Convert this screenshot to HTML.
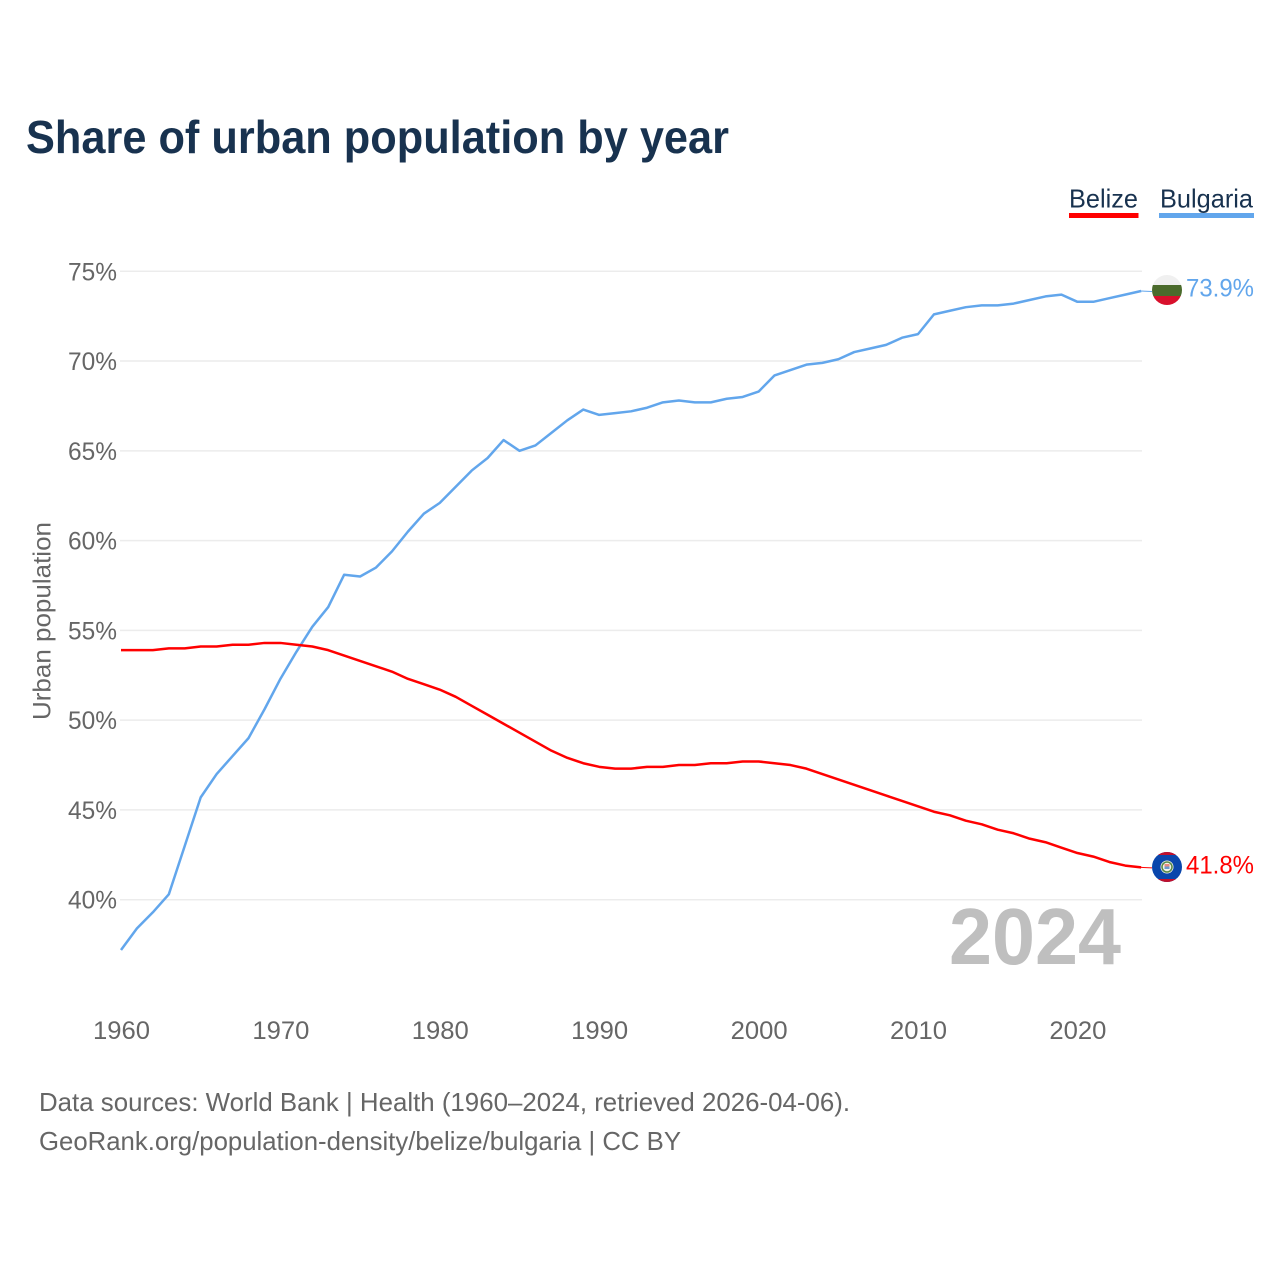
<!DOCTYPE html>
<html lang="en">
<head>
<meta charset="utf-8">
<title>Share of urban population by year</title>
<style>
html,body{margin:0;padding:0;background:#fff;width:1280px;height:1280px;overflow:hidden}
svg{display:block}
text{font-family:"Liberation Sans",sans-serif}
</style>
</head>
<body>
<svg id="chart" xmlns="http://www.w3.org/2000/svg" width="1280" height="1280" viewBox="0 0 1280 1280">
  <rect x="0" y="0" width="1280" height="1280" fill="#fff"/>
  <text x="26" y="153" font-size="46" font-weight="700" fill="#18324f" textLength="703" lengthAdjust="spacingAndGlyphs">Share of urban population by year</text>

  <g>
    <g>
      <text x="1069" y="207.5" font-size="26" fill="#18324f" textLength="69" lengthAdjust="spacingAndGlyphs">Belize</text>
      <rect x="1069" y="213" width="69.5" height="5" fill="#ff0000"/>
    </g>
    <g>
      <text x="1160" y="207.5" font-size="26" fill="#18324f" textLength="93" lengthAdjust="spacingAndGlyphs">Bulgaria</text>
      <rect x="1159" y="213" width="95" height="5" fill="#62a6ec"/>
    </g>
  </g>

  <g id="grid"></g>
  <g id="yticks"></g>
  <g id="xticks"></g>
  <text transform="translate(50.5,621) rotate(-90)" text-anchor="middle" font-size="25" fill="#666" textLength="198" lengthAdjust="spacingAndGlyphs">Urban population</text>

  <text x="949" y="964" font-size="80" font-weight="700" fill="#bfbfbf" textLength="172" lengthAdjust="spacingAndGlyphs">2024</text>

  <g id="series"></g>

  <defs>
    <clipPath id="flag-clip-bg"><circle cx="1167" cy="290" r="15"/></clipPath>
    <clipPath id="flag-clip-bz"><circle cx="1167" cy="867" r="15"/></clipPath>
  </defs>
  <g id="flag-bulgaria" clip-path="url(#flag-clip-bg)">
    <rect x="1152" y="275" width="30" height="10" fill="#f0f0f0"/>
    <rect x="1152" y="285" width="30" height="11" fill="#4b6b2c"/>
    <rect x="1152" y="296" width="30" height="10" fill="#d8102c"/>
  </g>
  <g id="flag-belize" clip-path="url(#flag-clip-bz)">
    <rect x="1152" y="852" width="30" height="30" fill="#0a46ac"/>
    <rect x="1152" y="852" width="30" height="3" fill="#c0102c"/>
    <rect x="1152" y="879" width="30" height="3" fill="#c0102c"/>
    <circle cx="1167" cy="867" r="6.5" fill="#f4f4ea"/>
    <circle cx="1167" cy="867" r="5" fill="none" stroke="#5a8a4a" stroke-width="1.6"/>
    <rect x="1164.5" y="864" width="5" height="2.5" fill="#e88a80"/>
    <rect x="1164.5" y="866.5" width="5" height="2.5" fill="#6a9ad0"/>
  </g>

  <text id="label-bg" x="1186" y="296.5" font-size="25" fill="#62a6ec" textLength="68" lengthAdjust="spacingAndGlyphs"></text>
  <text id="label-bz" x="1186" y="873.5" font-size="25" fill="#ff0000" textLength="68" lengthAdjust="spacingAndGlyphs"></text>

  <text x="39" y="1111" font-size="26" fill="#666" textLength="811" lengthAdjust="spacingAndGlyphs">Data sources: World Bank | Health (1960–2024, retrieved 2026-04-06).</text>
  <text x="39" y="1150" font-size="26" fill="#666" textLength="642" lengthAdjust="spacingAndGlyphs">GeoRank.org/population-density/belize/bulgaria | CC BY</text>
</svg>
<script>
const startYear = 1960;
const yTickValues = [40, 45, 50, 55, 60, 65, 70, 75];
const xTickValues = [1960, 1970, 1980, 1990, 2000, 2010, 2020];
const belizeValues = [53.9,53.9,53.9,54.0,54.0,54.1,54.1,54.2,54.2,54.3,54.3,54.2,54.1,53.9,53.6,53.3,53.0,52.7,52.3,52.0,51.7,51.3,50.8,50.3,49.8,49.3,48.8,48.3,47.9,47.6,47.4,47.3,47.3,47.4,47.4,47.5,47.5,47.6,47.6,47.7,47.7,47.6,47.5,47.3,47.0,46.7,46.4,46.1,45.8,45.5,45.2,44.9,44.7,44.4,44.2,43.9,43.7,43.4,43.2,42.9,42.6,42.4,42.1,41.9,41.8];
const bulgariaValues = [37.2,38.4,39.3,40.3,43.0,45.7,47.0,48.0,49.0,50.6,52.3,53.8,55.2,56.3,58.1,58.0,58.5,59.4,60.5,61.5,62.1,63.0,63.9,64.6,65.6,65.0,65.3,66.0,66.7,67.3,67.0,67.1,67.2,67.4,67.7,67.8,67.7,67.7,67.9,68.0,68.3,69.2,69.5,69.8,69.9,70.1,70.5,70.7,70.9,71.3,71.5,72.6,72.8,73.0,73.1,73.1,73.2,73.4,73.6,73.7,73.3,73.3,73.5,73.7,73.9];

const NS = 'http://www.w3.org/2000/svg';
function xScale(year) { return 121 + (year - 1960) * 15.94; }
function yScale(v) { return 899.7 - (v - 40) * 17.955; }
function make(tag, attrs, parent) {
  const el = document.createElementNS(NS, tag);
  for (const k in attrs) el.setAttribute(k, attrs[k]);
  parent.appendChild(el);
  return el;
}

const grid = document.getElementById('grid');
const yticks = document.getElementById('yticks');
yTickValues.forEach(function (v) {
  const line = make('line', {x1: 120, x2: 1142, y1: yScale(v), y2: yScale(v), stroke: '#ececec', 'stroke-width': 1.5}, grid);
  
  
  const t = make('text', {x: 68, y: yScale(v) + 9, 'font-size': 25, fill: '#666', textLength: 49, lengthAdjust: 'spacingAndGlyphs'}, yticks);
  
  
  t.textContent = v + '%';
});

const xticks = document.getElementById('xticks');
xTickValues.forEach(function (year) {
  const t = make('text', {x: xScale(year) + 0.5, y: 1039, 'font-size': 25, fill: '#666', 'text-anchor': 'middle', textLength: 57, lengthAdjust: 'spacingAndGlyphs'}, xticks);
  
  
  t.textContent = year;
});

function pathFor(values) {
  return values.map(function (v, i) {
    return (i ? 'L' : 'M') + xScale(startYear + i).toFixed(2) + ' ' + yScale(v).toFixed(2);
  }).join(' ');
}

const series = document.getElementById('series');
const bulgariaLine = make('path', {d: pathFor(bulgariaValues), fill: 'none', stroke: '#62a6ec', 'stroke-width': 2.5, 'stroke-linejoin': 'round'}, series);


const belizeLine = make('path', {d: pathFor(belizeValues), fill: 'none', stroke: '#ff0000', 'stroke-width': 2.5, 'stroke-linejoin': 'round'}, series);



const lastBg = bulgariaValues[bulgariaValues.length - 1];
const lastBz = belizeValues[belizeValues.length - 1];
const connBg = make('line', {x1: 1141, x2: 1152, y1: yScale(lastBg), y2: yScale(lastBg) + 0.5, stroke: '#62a6ec', 'stroke-width': 1}, series);


const connBz = make('line', {x1: 1141, x2: 1152, y1: yScale(lastBz), y2: yScale(lastBz) + 0.5, stroke: '#ff0000', 'stroke-width': 1}, series);



document.getElementById('label-bg').textContent = lastBg.toFixed(1) + '%';
document.getElementById('label-bz').textContent = lastBz.toFixed(1) + '%';
</script>
</body>
</html>
